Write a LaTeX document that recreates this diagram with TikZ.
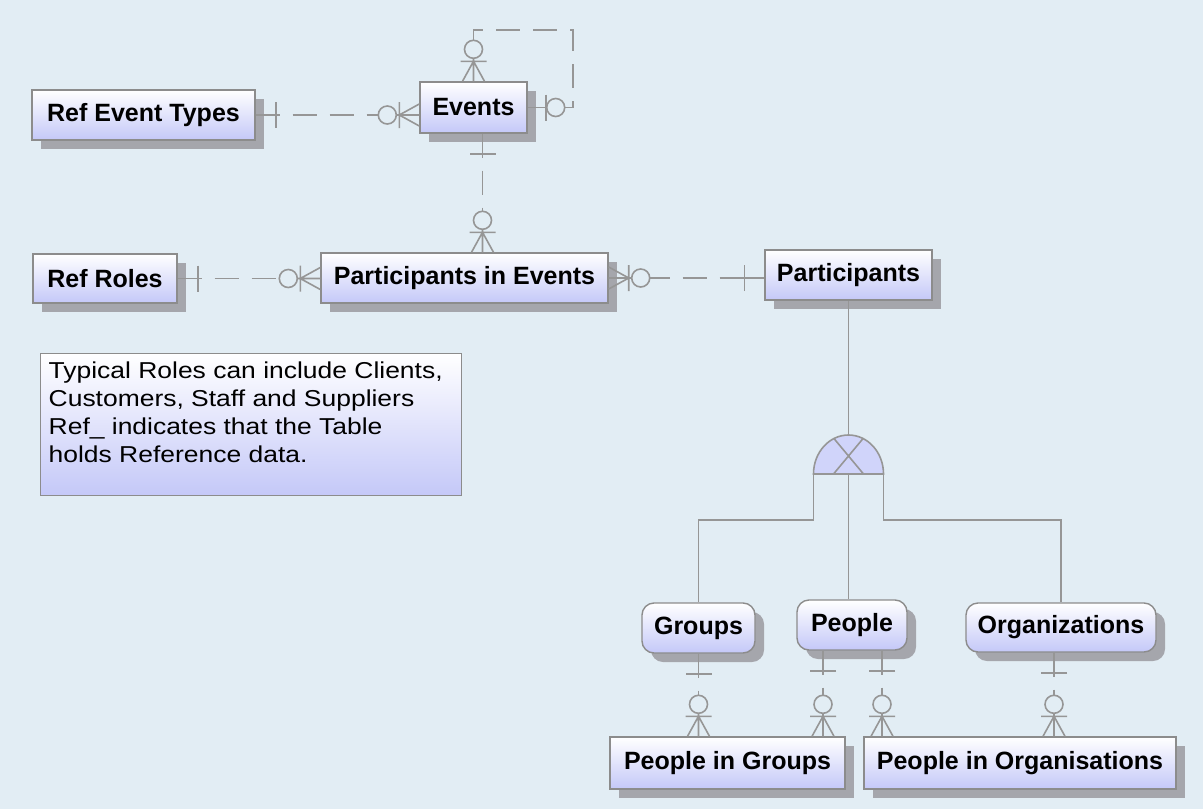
\documentclass[tikz,border=0pt]{standalone}
\usepackage{fontspec}
\setmainfont{Liberation Sans}
\newfontfamily\notefont[FakeStretch=1.15]{Liberation Sans}
\usetikzlibrary{shadows}
\definecolor{bgcol}{RGB}{226,237,244}
\definecolor{linecol}{RGB}{150,150,150}
\definecolor{edgecol}{RGB}{140,140,140}
\definecolor{entbot}{RGB}{196,200,248}
\definecolor{catfill}{RGB}{208,212,250}
\definecolor{shadecol}{RGB}{165,166,172}
\tikzset{
  entity/.style={draw=edgecol, line width=1.4pt, top color=white, bottom color=entbot, inner sep=0pt,
    font=\fontsize{25}{30}\selectfont\bfseries,
    drop shadow={shadow xshift=9pt, shadow yshift=-9pt, fill=shadecol, opacity=1}},
  subent/.style={entity, rounded corners=12pt},
  note/.style={draw=edgecol, line width=1.4pt, top color=white, bottom color=entbot, inner sep=8pt,
    font=\notefont\fontsize{23}{28}\selectfont},
  rel/.style={draw=linecol, line width=1.6pt, dash pattern=on 24pt off 13pt},
  sub/.style={draw=linecol, line width=1.6pt},
  onebar/.pic={\draw[sub] (0,0) -- (24,0) (20,-13) -- (20,13);},
  zmany/.pic={\draw[sub] (0,-11) -- (20,0) -- (0,11) (0,0) -- (23,0) (20,-13) -- (20,13);
    \draw[sub, fill=bgcol] (32,0) circle[radius=9];},
  zone/.pic={\draw[sub] (0,0) -- (20,0) (18,-13) -- (18,13);
    \draw[sub, fill=bgcol] (28,0) circle[radius=9];}
}
\begin{document}
\begin{tikzpicture}[x=1pt,y=-1pt]
\useasboundingbox (0,0) rectangle (1203,809);
\fill[bgcol] (0,0) rectangle (1203,809);
\node[entity, minimum width=223pt, minimum height=50pt] (reftypes) at (143.5,115) {Ref Event Types};
\node[entity, minimum width=107pt, minimum height=51pt] (events) at (473.5,107.5) {Events};
\node[entity, minimum width=144pt, minimum height=49pt] (refroles) at (105,278.5) {Ref Roles};
\node[entity, minimum width=287pt, minimum height=50pt] (pie) at (464.5,278) {Participants in Events};
\node[entity, minimum width=167pt, minimum height=50pt] (participants) at (848.5,275) {Participants};
\node[note, anchor=north west] (remark) at (40,353) {\parbox[t][126pt][t]{405pt}{\raggedright
Typical Roles can include Clients,\\
Customers, Staff and Suppliers\\
Ref\_ indicates that the Table\\
holds Reference data.}};
\node[subent, minimum width=113pt, minimum height=50pt] (groups) at (698.5,628) {Groups};
\node[subent, minimum width=110pt, minimum height=50pt] (people) at (852,625) {People};
\node[subent, minimum width=190pt, minimum height=49pt] (orgs) at (1061,627.5) {Organizations};
\node[entity, minimum width=235pt, minimum height=52pt] (pig) at (727.5,763) {People in Groups};
\node[entity, minimum width=312pt, minimum height=52pt] (pio) at (1020,763) {People in Organisations};
\coordinate (evdn) at ([xshift=9pt]events.south);
\coordinate (ppl1) at ([xshift=-29pt]people.south);
\coordinate (ppl2) at ([xshift=30pt]people.south);
\coordinate (org1) at ([xshift=-7pt]orgs.south);
\coordinate (cat) at (848.5,474);
\draw[rel] (reftypes.east) -- (reftypes.east -| events.west);
\pic at (reftypes.east) {onebar};
\pic[rotate=180] at (reftypes.east -| events.west) {zmany};
\draw[rel] (events.north) |- (573,30) |- (events.east);
\pic[rotate=90] at (events.north) {zmany};
\pic at (events.east) {zone};
\draw[rel] (evdn) -- (evdn |- pie.north);
\pic[rotate=-90] at (evdn) {onebar};
\pic[rotate=90] at (evdn |- pie.north) {zmany};
\draw[rel] (refroles.east) -- (refroles.east -| pie.west);
\pic at (refroles.east) {onebar};
\pic[rotate=180] at (refroles.east -| pie.west) {zmany};
\draw[rel] (pie.east) -- (pie.east -| participants.west);
\pic at (pie.east) {zmany};
\pic[rotate=180] at (pie.east -| participants.west) {onebar};
\draw[sub] (participants.south) -- (cat |- 0,435);
\draw[sub, fill=catfill] (cat) ++(-35,0) arc[start angle=180, end angle=360, x radius=35, y radius=39] -- cycle;
\draw[sub] (cat) ++(-15,-36) -- ++(30,36) (cat) ++(15,-36) -- ++(-30,36);
\draw[sub] (cat) ++(-35,0) -- ++(0,46) -| (groups.north);
\draw[sub] (cat) -- (cat |- people.north);
\draw[sub] (cat) ++(35,0) -- ++(0,46) -| (orgs.north);
\draw[rel] (groups.south) -- (groups.south |- pig.north);
\pic[rotate=-90] at (groups.south) {onebar};
\pic[rotate=90] at (groups.south |- pig.north) {zmany};
\draw[rel] (ppl1) -- (ppl1 |- pig.north);
\pic[rotate=-90] at (ppl1) {onebar};
\pic[rotate=90] at (ppl1 |- pig.north) {zmany};
\draw[rel] (ppl2) -- (ppl2 |- pio.north);
\pic[rotate=-90] at (ppl2) {onebar};
\pic[rotate=90] at (ppl2 |- pio.north) {zmany};
\draw[rel] (org1) -- (org1 |- pio.north);
\pic[rotate=-90] at (org1) {onebar};
\pic[rotate=90] at (org1 |- pio.north) {zmany};
\end{tikzpicture}
\end{document}
